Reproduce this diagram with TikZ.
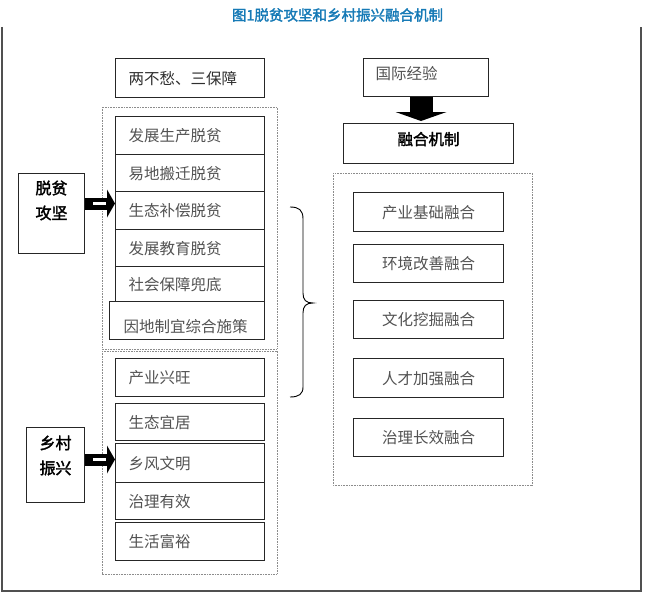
\documentclass[tikz,border=0pt]{standalone}
\usepackage{fontspec}
\setmainfont{Noto Sans CJK SC}[AutoFakeBold=2]
\usetikzlibrary{calc}
\definecolor{titleblue}{RGB}{22,122,182}
\definecolor{framegray}{RGB}{80,80,80}
\newcommand{\hollowarrow}[2]{%
  \fill[black] ($(#1)+(0,-6)$) rectangle ($(#2)+(-8,6)$);
  \fill[black] ($(#2)+(-8,-14)$) -- (#2) -- ($(#2)+(-8,14)$) -- cycle;
  \fill[white] ($(#1)+(8,-1.8)$) rectangle ($(#2)+(-9,1.8)$);
}
\tikzset{
  bx/.style={draw=black!85, line width=1pt, inner sep=0pt, anchor=north west,
    font=\fontsize{15.5}{18}\selectfont, text=black!68, text height=13pt, text depth=0.5pt},
  lbox/.style={bx, minimum width=149pt, text width=123pt, inner xsep=13pt, align=left},
  rbox/.style={bx, minimum width=150pt, minimum height=38pt, align=center},
  group/.style={draw=black!45, line width=0.5pt, dash pattern=on 0.8pt off 0.8pt},
  boldtxt/.style={font=\fontsize{16}{25}\selectfont\bfseries, text=black, align=center, inner sep=0pt},
}
\begin{document}
\begin{tikzpicture}[x=1pt,y=-1pt]
\useasboundingbox (0,0) rectangle (645,594);
% title
\node[font=\fontsize{14.5}{16}\selectfont\bfseries, text=titleblue, inner sep=0pt] (title) at (337.5,15) {图1脱贫攻坚和乡村振兴融合机制};
% outer frame
\draw[framegray, line width=1.3pt] (2,27) -- (2,591) -- (641,591) -- (641,27);
% dotted groups
\draw[group] (102,107) rectangle (277,349);
\draw[group] (102,351) rectangle (277,574);
\draw[group] (333,173) rectangle (532,485);
% top box
\node[lbox, minimum height=39pt, text=black!82] (lb) at (115,58) {两不愁、三保障};
% poverty stack
\node[lbox, minimum height=38pt] (s1) at (115,116) {发展生产脱贫};
\node[lbox, minimum height=37pt] (s2) at (115,154) {易地搬迁脱贫};
\node[lbox, minimum height=38pt] (s3) at (115,191) {生态补偿脱贫};
\node[lbox, minimum height=37pt] (s4) at (115,229) {发展教育脱贫};
\node[lbox, minimum height=35pt] (s5) at (115,266) {社会保障兜底};
\node[bx, minimum width=155pt, minimum height=38pt, text width=127pt, inner xsep=14pt, align=left, text height=25pt] (s6) at (109,301) {因地制宜综合施策};
% rural stack
\node[lbox, minimum height=38pt] (r1) at (115,358) {产业兴旺};
\node[lbox, minimum height=37pt] (r2) at (115,403) {生态宜居};
\node[lbox, minimum height=39pt] (r3) at (115,443) {乡风文明};
\node[lbox, minimum height=37pt] (r4) at (115,482) {治理有效};
\node[lbox, minimum height=38pt] (r5) at (115,522) {生活富裕};
% left boxes
\node[bx, minimum width=66pt, minimum height=80pt] (tp) at (18,173) {};
\node[boldtxt] (tptext) at ($(tp.north)+(0,27.5)$) {脱贫\\攻坚};
\node[bx, minimum width=58pt, minimum height=75pt] (xc) at (26,427) {};
\node[boldtxt] (xctext) at ($(xc.north)+(0,28.5)$) {乡村\\振兴};
% arrows left
\coordinate (a1) at ($(tp.east)+(0,-10)$);
\coordinate (a1e) at (s3.west |- a1);
\hollowarrow{a1}{a1e}
\coordinate (a2) at ($(xc.east)+(0,-5.5)$);
\coordinate (a2e) at (r3.west |- a2);
\hollowarrow{a2}{a2e}
% brace
\draw[black, line width=0.9pt] (290,207) .. controls (299,207) and (303,210) .. (303,219) -- (303,293)
  .. controls (303,300) and (306,303) .. (313,303)
  .. controls (306,303) and (303,306) .. (303,313) -- (303,387)
  .. controls (303,394) and (299,397) .. (290,397);
% right side
\node[bx, minimum width=125pt, minimum height=38pt, text width=101pt, inner xsep=12pt, align=left, text depth=8.5pt] (gj) at (363,58) {国际经验};
\node[bx, minimum width=170pt, minimum height=40pt, align=center, text=black, font=\fontsize{15.5}{18}\selectfont\bfseries, text depth=10pt] (rh) at (343,123) {融合机制};
\coordinate (d1) at ($(gj.south)+(-5,0)$);
\coordinate (d2) at ($(d1 |- rh.north)+(0,-2)$);
\fill[black] ($(d1)+(-11.5,0)$) rectangle ($(d2)+(11.5,-9)$);
\fill[black] ($(d2)+(-25.5,-9)$) -- (d2) -- ($(d2)+(25.5,-9)$) -- cycle;
\node[rbox, minimum height=39pt] (f1) at (353,192) {产业基础融合};
\node[rbox] (f2) at (353,244) {环境改善融合};
\node[rbox] (f3) at (353,300) {文化挖掘融合};
\node[rbox, minimum height=39pt] (f4) at (353,358) {人才加强融合};
\node[rbox] (f5) at (353,418) {治理长效融合};
\end{tikzpicture}
\end{document}
